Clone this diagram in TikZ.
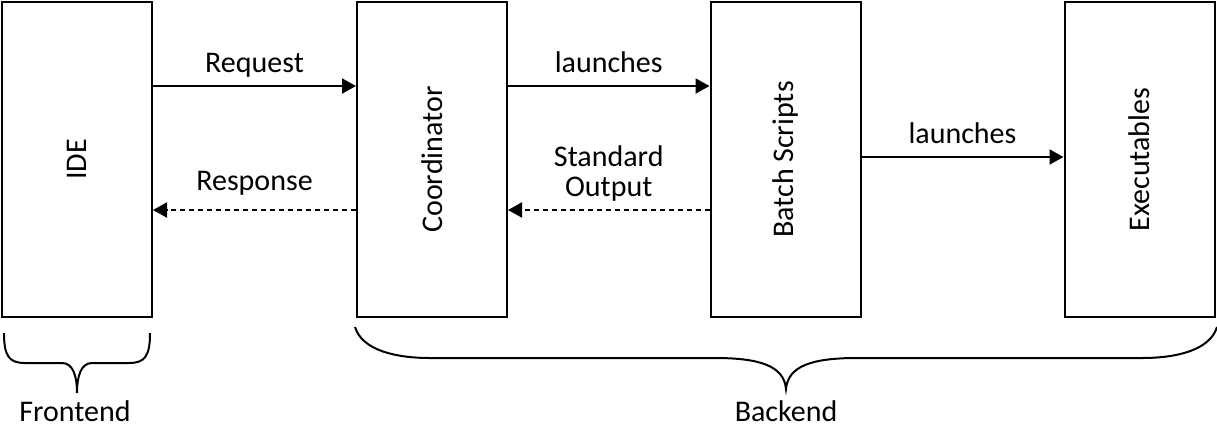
\documentclass[tikz,border=0pt]{standalone}
\usepackage{fontspec}
\setmainfont{Carlito}
\usepackage{tikz}
\usetikzlibrary{calc}
\usetikzlibrary{arrows.meta}
\tikzstyle{every node}=[font=\fontsize{15}{18}\selectfont]
\tikzstyle{block}=[draw,line width=1pt,minimum width=75pt,minimum height=157.5pt,inner sep=0pt]
\tikzstyle{reply}=[dash pattern=on 2.5pt off 2pt]
\tikzstyle{lbl}=[inner sep=0pt,anchor=base]

\begin{document}
\begin{tikzpicture}[line cap=butt,line join=miter,>={Triangle[length=7pt,width=7.5pt]},x=0.5pt,y=-0.5pt,line width=1pt]
            \useasboundingbox (0,0) rectangle (1217,436);
            % boxes
            \node[block] (ide) at (77,159.5) {};
            \node[block] (coord) at (432,159.5) {};
            \node[block] (batch) at (785.5,159.5) {};
            \node[block] (exe) at (1139.5,159.5) {};
            \node[rotate=90] (idetxt) at (ide) {IDE};
            \node[rotate=90] (coordtxt) at (coord) {Coordinator};
            \node[rotate=90] (batchtxt) at (batch) {Batch Scripts};
            \node[rotate=90] (exetxt) at (exe) {Executables};
            % connectors
            \draw [->] ([yshift=36.75pt]ide.east) -- ([yshift=36.75pt]coord.west)
                node[lbl,midway,yshift=7pt] {Request};
            \draw [->,reply] ([yshift=-25.25pt]coord.west) -- ([yshift=-25.25pt]ide.east)
                node[lbl,midway,yshift=10pt] {Response};
            \draw [->] ([yshift=36.75pt]coord.east) -- ([yshift=36.75pt]batch.west)
                node[lbl,midway,yshift=7pt] {launches};
            \draw [->,reply] ([yshift=-25.25pt]batch.west) -- ([yshift=-25.25pt]coord.east)
                node[lbl,midway,yshift=7pt,align=center,font=\fontsize{15}{14.7}\selectfont] {Standard\\Output};
            \draw [->] ([yshift=1.25pt]batch.east) -- ([yshift=1.25pt]exe.west)
                node[lbl,midway,yshift=7pt] {launches};
            % braces
            \draw (4,333) .. controls (4,356) and (9,363) .. (25,363) -- (62,363)
                .. controls (73,363) and (77,376) .. (77,393)
                .. controls (77,376) and (81,363) .. (92,363) -- (129,363)
                .. controls (145,363) and (150,356) .. (150,333);
            \draw (355,327) .. controls (362,350) and (395,358) .. (430,358) -- (715,358)
                .. controls (760,358) and (784,366) .. (786,389)
                .. controls (788,366) and (812,358) .. (857,358) -- (1142,358)
                .. controls (1177,358) and (1210,350) .. (1217,327);
            \node (front) at (75,411) {Frontend};
            \node (back) at (786,411) {Backend};
        \end{tikzpicture}
\end{document}
